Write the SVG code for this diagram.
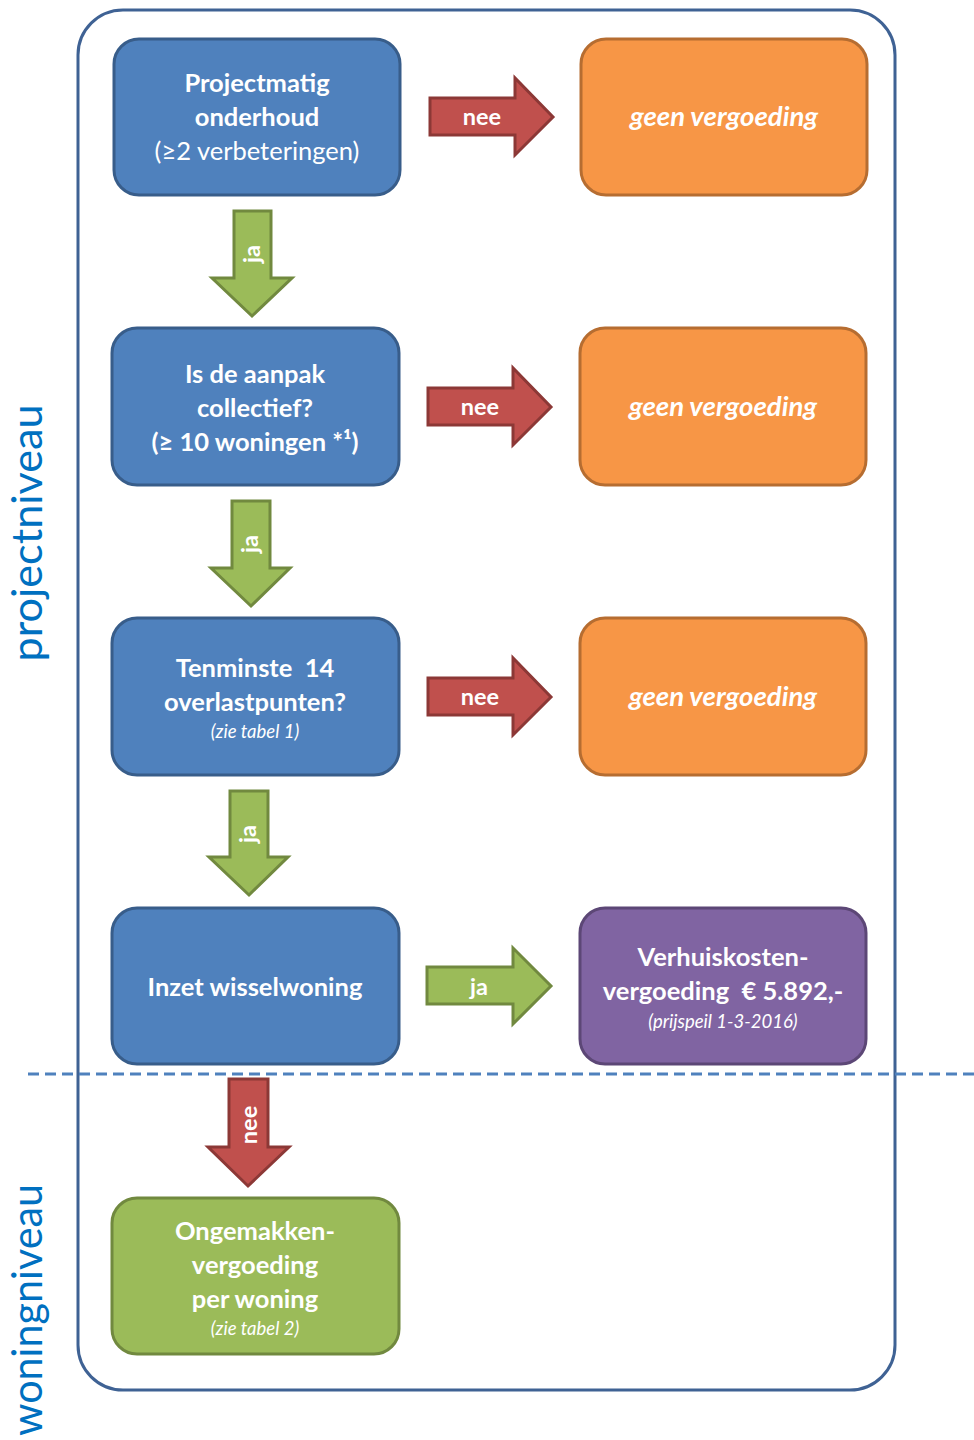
<svg xmlns="http://www.w3.org/2000/svg" width="974" height="1440" viewBox="0 0 974 1440">
<style>
.blue{fill:#4f81bd;stroke:#385d8a;stroke-width:3}
.orange{fill:#f79646;stroke:#b66d31;stroke-width:3}
.purple{fill:#8064a2;stroke:#5c4776;stroke-width:3}
.green{fill:#9bbb59;stroke:#71893f;stroke-width:3}
.ared{fill:#c0504d;stroke:#8c3836;stroke-width:3;stroke-linejoin:miter}
.agreen{fill:#9bbb59;stroke:#71893f;stroke-width:3;stroke-linejoin:miter}
text{font-family:Lato,"Open Sans","Liberation Sans",sans-serif;fill:#fff;text-anchor:middle}
.b{font-weight:bold;font-size:25.5px}
.r{font-size:25.5px}
.bi{font-weight:bold;font-style:italic;font-size:27.5px}
.s{font-style:italic;font-size:18.5px}
.lbl{font-weight:bold;font-size:23.5px}
.side{fill:#0070c0;font-size:42px}
</style>
<rect x="78" y="10" width="817" height="1380" rx="45" ry="45" fill="none" stroke="#3f6294" stroke-width="3"/>
<line x1="28" y1="1074" x2="974" y2="1074" stroke="#4f81bd" stroke-width="3" stroke-dasharray="11,6"/>
<text class="side" transform="translate(42,533) rotate(-90)" textLength="257" lengthAdjust="spacingAndGlyphs">projectniveau</text>
<text class="side" transform="translate(42,1310) rotate(-90)" textLength="252" lengthAdjust="spacingAndGlyphs">woningniveau</text>

<g id="connectors">
<path class="ared" d="M430,98 H515 V78 L553,117 L515,155 V135 H430 Z"/>
<path class="ared" d="M428,388 H513 V368 L551,407 L513,445 V425 H428 Z"/>
<path class="ared" d="M428,678 H513 V658 L551,697 L513,735 V715 H428 Z"/>
<path class="agreen" d="M427,967 H513 V948 L551,986 L513,1024 V1004 H427 Z"/>
<path class="agreen" d="M234,211 H271 V278 H292 L252,316 L212,278 H234 Z"/>
<path class="agreen" d="M232,501 H270 V568 H290 L251,606 L211,568 H232 Z"/>
<path class="agreen" d="M230,791 H268 V857 H288 L249,895 L209,857 H230 Z"/>
<path class="ared" d="M229,1079 H268 V1147 H289 L248,1186 L208,1147 H229 Z"/>
<text class="lbl" x="482" y="125">nee</text>
<text class="lbl" x="480" y="415">nee</text>
<text class="lbl" x="480" y="705">nee</text>
<text class="lbl" x="479" y="995">ja</text>
<text class="lbl" transform="translate(260,254) rotate(-90)">ja</text>
<text class="lbl" transform="translate(258,544) rotate(-90)">ja</text>
<text class="lbl" transform="translate(256,834) rotate(-90)">ja</text>
<text class="lbl" transform="translate(257,1125) rotate(-90)">nee</text>
</g>

<g id="n1">
<rect class="blue" x="114" y="39" width="286" height="156" rx="25"/>
<text class="b" x="257" y="92">Projectmatig</text>
<text class="b" x="257" y="126">onderhoud</text>
<text class="r" x="257" y="160">(≥2 verbeteringen)</text>
</g>
<g id="n2">
<rect class="blue" x="112" y="328" width="287" height="157" rx="25"/>
<text class="b" x="255" y="383">Is de aanpak</text>
<text class="b" x="255" y="417">collectief?</text>
<text class="b" x="255" y="451">(≥ 10 woningen *¹)</text>
</g>
<g id="n3">
<rect class="blue" x="112" y="618" width="287" height="157" rx="25"/>
<text class="b" x="255" y="677" xml:space="preserve">Tenminste  14</text>
<text class="b" x="255" y="711">overlastpunten?</text>
<text class="s" x="255" y="738">(zie tabel 1)</text>
</g>
<g id="n4">
<rect class="blue" x="112" y="908" width="287" height="156" rx="25"/>
<text class="b" x="255" y="996">Inzet wisselwoning</text>
</g>
<g id="n5">
<rect class="green" x="112" y="1198" width="287" height="156" rx="25"/>
<text class="b" x="255" y="1240">Ongemakken-</text>
<text class="b" x="255" y="1274">vergoeding</text>
<text class="b" x="255" y="1308">per woning</text>
<text class="s" x="255" y="1335">(zie tabel 2)</text>
</g>
<g id="o1">
<rect class="orange" x="581" y="39" width="286" height="156" rx="25"/>
<text class="bi" x="724" y="126">geen vergoeding</text>
</g>
<g id="o2">
<rect class="orange" x="580" y="328" width="286" height="157" rx="25"/>
<text class="bi" x="723" y="416">geen vergoeding</text>
</g>
<g id="o3">
<rect class="orange" x="580" y="618" width="286" height="157" rx="25"/>
<text class="bi" x="723" y="706">geen vergoeding</text>
</g>
<g id="p1">
<rect class="purple" x="580" y="908" width="286" height="156" rx="25"/>
<text class="b" x="723" y="966">Verhuiskosten-</text>
<text class="b" x="723" y="1000" xml:space="preserve">vergoeding  € 5.892,-</text>
<text class="s" x="723" y="1028">(prijspeil 1-3-2016)</text>
</g>
</svg>
